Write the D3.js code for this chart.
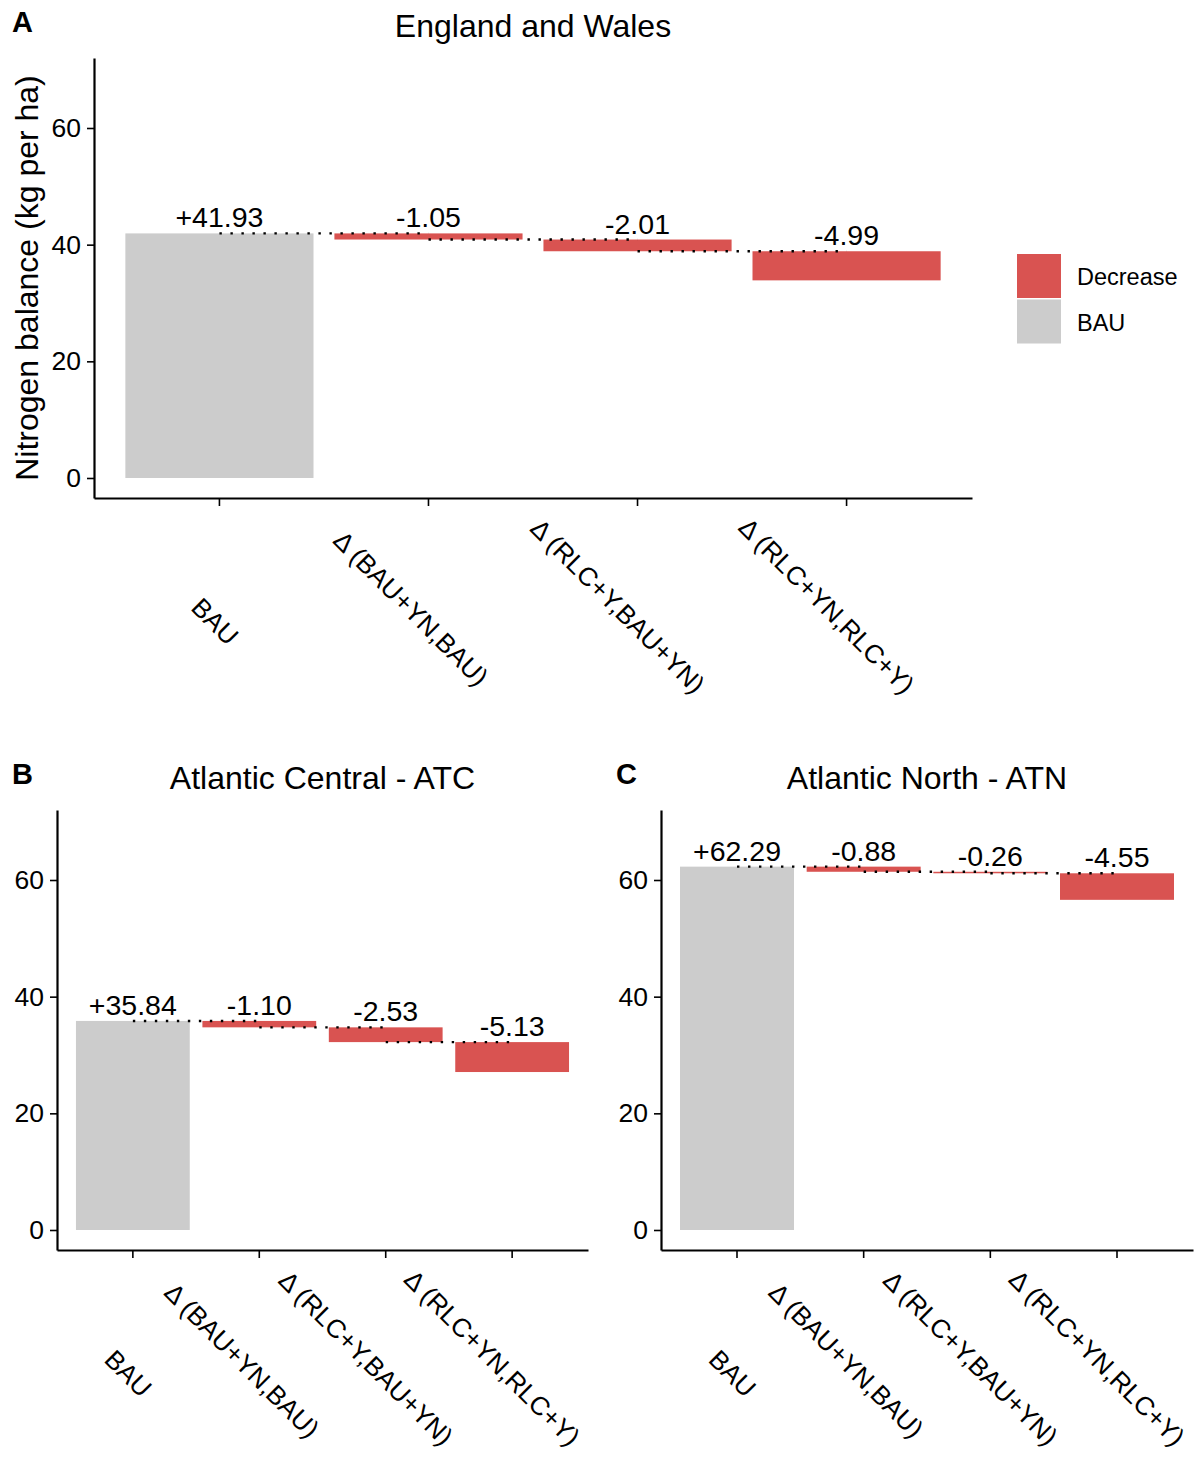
<!DOCTYPE html>
<html>
<head>
<meta charset="utf-8">
<script src="https://cdn.jsdelivr.net/npm/d3@7"></script>
<style>
	body { margin: 0; background: #fff; }
	text { font-family: "Liberation Sans", Arial, sans-serif; fill: #000; }
</style>
</head>
<body>
<div id="container"></div>
<script>
const categories = ["BAU", "Δ (BAU+YN,BAU)", "Δ (RLC+Y,BAU+YN)", "Δ (RLC+YN,RLC+Y)"];
const ewValues = [41.93, -1.05, -2.01, -4.99];
const atcValues = [35.84, -1.10, -2.53, -5.13];
const atnValues = [62.29, -0.88, -0.26, -4.55];
const panelTitles = ["England and Wales", "Atlantic Central - ATC", "Atlantic North - ATN"];
const panelTags = ["A", "B", "C"];
const yTicks = [0, 20, 40, 60];
const legendLabels = ["Decrease", "BAU"];

const red = "#d95351";
const grey = "#cccccc";

const width = 1200;
const height = 1461;

const svg = d3
	.select("#container")
	.append("svg")
	.attr("width", width)
	.attr("height", height)
	.style("background", "#fff");

// panel frames (plot area only)
const panels = [
	{ values: ewValues, x0: 94, x1: 972, top: 58, bottom: 498, tagX: 12, yTitle: true },
	{ values: atcValues, x0: 57, x1: 588, top: 810, bottom: 1250, tagX: 12, yTitle: false },
	{ values: atnValues, x0: 661, x1: 1193, top: 810, bottom: 1250, tagX: 616, yTitle: false },
];

panels.forEach((p, k) => drawPanel(p, k));
drawLegend();

function waterfall(values) {
	let cum = 0;
	return values.map((v, i) => {
		const start = i === 0 ? 0 : cum;
		const end = i === 0 ? v : cum + v;
		cum = end;
		return { cat: categories[i], value: v, start, end, type: i === 0 ? "BAU" : "Decrease" };
	});
}

function drawPanel(p, k) {
	const rows = waterfall(p.values);
	const g = svg.append("g").attr("class", "panel-" + k);

	const x = d3
		.scaleBand()
		.domain(categories)
		.range([p.x0, p.x1])
		.paddingInner(0.1)
		.paddingOuter(0.15);

	const y = d3.scaleLinear().domain([-3.43, 72.0]).range([p.bottom, p.top]);

	// bars
	g.append("g")
		.selectAll("rect")
		.data(rows)
		.enter()
		.append("rect")
		.attr("x", (d) => x(d.cat))
		.attr("width", x.bandwidth())
		.attr("y", (d) => y(Math.max(d.start, d.end)))
		.attr("height", (d) => Math.abs(y(d.start) - y(d.end)))
		.attr("fill", (d) => (d.type === "BAU" ? grey : red));

	// dotted connectors
	const centre = (c) => x(c) + x.bandwidth() / 2;
	g.append("g")
		.selectAll("line")
		.data(rows.slice(0, -1))
		.enter()
		.append("line")
		.attr("x1", (d) => centre(d.cat))
		.attr("x2", (d, i) => centre(rows[i + 1].cat))
		.attr("y1", (d) => y(d.end))
		.attr("y2", (d) => y(d.end))
		.attr("stroke", "#000")
		.attr("stroke-width", 2.4)
		.attr("stroke-dasharray", "2.4,8.6");

	// value labels
	g.append("g")
		.selectAll("text")
		.data(rows)
		.enter()
		.append("text")
		.attr("x", (d) => centre(d.cat))
		.attr("y", (d) => y(Math.max(d.start, d.end)) - 6)
		.attr("text-anchor", "middle")
		.style("font-size", "28.5px")
		.text((d, i) => (i === 0 ? "+" : "") + d.value.toFixed(2));

	// y axis
	const yAxis = d3.axisLeft(y).tickValues(yTicks).tickSize(7).tickSizeOuter(0).tickPadding(6);
	const ya = g.append("g").attr("transform", `translate(${p.x0},0)`).call(yAxis);
	ya.select(".domain").attr("stroke-width", 2.2);
	ya.selectAll(".tick line").attr("stroke-width", 1.6);
	ya.selectAll(".tick text").style("font-size", "26.5px").attr("fill", "#1a1a1a");

	// x axis
	const xAxis = d3.axisBottom(x).tickSize(8).tickSizeOuter(0);
	const xa = g.append("g").attr("transform", `translate(0,${p.bottom})`).call(xAxis);
	xa.select(".domain").attr("stroke-width", 2.2);
	xa.selectAll(".tick line").attr("stroke-width", 1.6);
	xa.selectAll(".tick text").remove();

	const xl = g.append("g");
	categories.forEach((c) => {
		const t = xl
			.append("text")
			.attr("transform", `translate(${centre(c)},${p.bottom + 128}) rotate(45)`)
			.attr("dominant-baseline", "central")
			.style("font-size", "26px")
			.attr("fill", "#1a1a1a")
			.text(c);
		const len = t.node().getComputedTextLength();
		t.attr("x", -0.62 * len);
	});

	// titles
	g.append("text")
		.attr("x", (p.x0 + p.x1) / 2)
		.attr("y", p.top - 21)
		.attr("text-anchor", "middle")
		.style("font-size", "32px")
		.text(panelTitles[k]);

	g.append("text")
		.attr("x", p.tagX)
		.attr("y", p.top - 26)
		.style("font-size", "29px")
		.style("font-weight", "bold")
		.text(panelTags[k]);

	if (p.yTitle) {
		g.append("text")
			.attr("transform", `translate(27,${(p.top + p.bottom) / 2}) rotate(-90)`)
			.attr("text-anchor", "middle")
			.attr("dominant-baseline", "central")
			.style("font-size", "32px")
			.text("Nitrogen balance (kg per ha)");
	}
}

function drawLegend() {
	const lg = svg.append("g").attr("transform", "translate(1017,254)");
	const keys = lg
		.selectAll("g")
		.data(legendLabels)
		.enter()
		.append("g")
		.attr("transform", (d, i) => `translate(0,${i * 45.5})`);
	keys.append("rect")
		.attr("width", 44)
		.attr("height", 44)
		.attr("fill", (d) => (d === "BAU" ? grey : red));
	keys.append("text")
		.attr("x", 60)
		.attr("y", 23)
		.attr("dominant-baseline", "central")
		.style("font-size", "23.5px")
		.text((d) => d);
}
</script>
</body>
</html>
